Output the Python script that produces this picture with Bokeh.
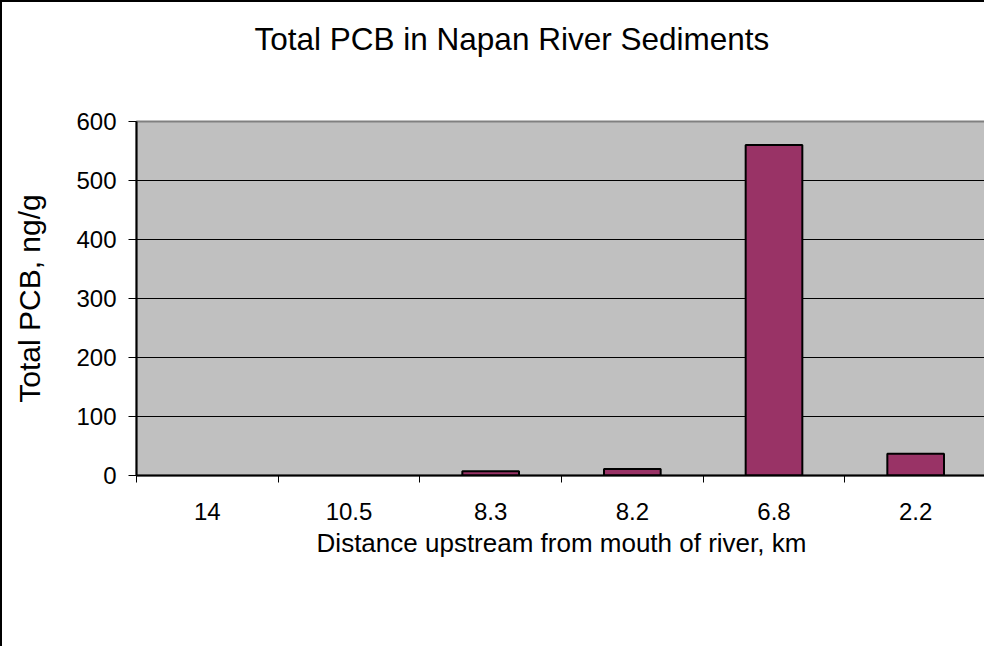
from bokeh.plotting import figure
from bokeh.models import FixedTicker, Range1d, ColumnDataSource, Title
from bokeh.embed import file_html
from bokeh.resources import INLINE

categories = ["14", "10.5", "8.3", "8.2", "6.8", "2.2"]
pcb = [None, None, 7, 11, 560, 37]
y_ticks = [0, 100, 200, 300, 400, 500, 600]
title_text = "Total PCB in Napan River Sediments"
x_label = "Distance upstream from mouth of river, km"
y_label = "Total PCB, ng/g"

FONT = "Liberation Sans"

n = len(categories)
xc = [i + 0.5 for i in range(n)]
tops = [float("nan") if v is None else v for v in pcb]
src = ColumnDataSource(dict(x=xc, top=tops, cat=categories))

p = figure(width=984, height=646, output_backend="svg", toolbar_location=None,
           x_range=Range1d(0, n), y_range=Range1d(y_ticks[0], y_ticks[-1]),
           min_border_left=134, min_border_right=0, min_border_top=119,
           min_border_bottom=173, title=None)
p.title_location = None
p.styles = {"border-left": "2px solid black", "border-top": "2px solid black"}

p.background_fill_color = "#C0C0C0"
p.border_fill_color = "white"
p.outline_line_color = "#808080"
p.outline_line_width = 2

p.vbar(x="x", top="top", width=0.4, bottom=0, source=src,
       fill_color="#993366", line_color="black", line_width=2)

# spacer between plot area and title, then the title itself
spacer = Title(text=" ", text_font_size="2px", standoff=56)
p.add_layout(spacer, "above")
main_title = Title(text=title_text, align="left", offset=118, standoff=10,
                   text_font=FONT, text_font_size="31.5px", text_font_style="normal",
                   text_color="black")
p.add_layout(main_title, "above")

# grid
p.xgrid.grid_line_color = None
p.ygrid.grid_line_color = "black"
p.ygrid.grid_line_width = 1
p.ygrid.ticker = FixedTicker(ticks=y_ticks)

# y axis
p.yaxis.ticker = FixedTicker(ticks=y_ticks)
p.yaxis.axis_line_color = "black"
p.yaxis.axis_line_width = 2
p.yaxis.major_tick_out = 8
p.yaxis.major_tick_in = 0
p.yaxis.major_tick_line_color = "black"
p.yaxis.minor_tick_line_color = None
p.yaxis.major_label_text_font = FONT
p.yaxis.major_label_text_font_size = "24px"
p.yaxis.major_label_text_color = "black"
p.yaxis.major_label_standoff = 12
p.yaxis.axis_label = y_label
p.yaxis.axis_label_text_font = FONT
p.yaxis.axis_label_text_font_size = "30px"
p.yaxis.axis_label_text_font_style = "normal"
p.yaxis.axis_label_text_color = "black"
p.yaxis.axis_label_standoff = 27

# x axis
p.xaxis.ticker = FixedTicker(ticks=xc, minor_ticks=list(range(n + 1)))
p.xaxis.major_label_overrides = {x: c for x, c in zip(xc, categories)}
p.xaxis.axis_line_color = "black"
p.xaxis.axis_line_width = 2
p.xaxis.major_tick_out = 0
p.xaxis.major_tick_in = 0
p.xaxis.major_tick_line_color = None
p.xaxis.minor_tick_out = 7
p.xaxis.minor_tick_in = 0
p.xaxis.minor_tick_line_color = "black"
p.xaxis.major_label_text_font = FONT
p.xaxis.major_label_text_font_size = "24px"
p.xaxis.major_label_text_color = "black"
p.xaxis.major_label_standoff = 20
p.xaxis.axis_label = x_label
p.xaxis.axis_label_text_font = FONT
p.xaxis.axis_label_text_font_size = "26px"
p.xaxis.axis_label_text_font_style = "normal"
p.xaxis.axis_label_text_color = "black"
p.xaxis.axis_label_standoff = 5

open("out.html", "w").write(file_html(p, INLINE))
